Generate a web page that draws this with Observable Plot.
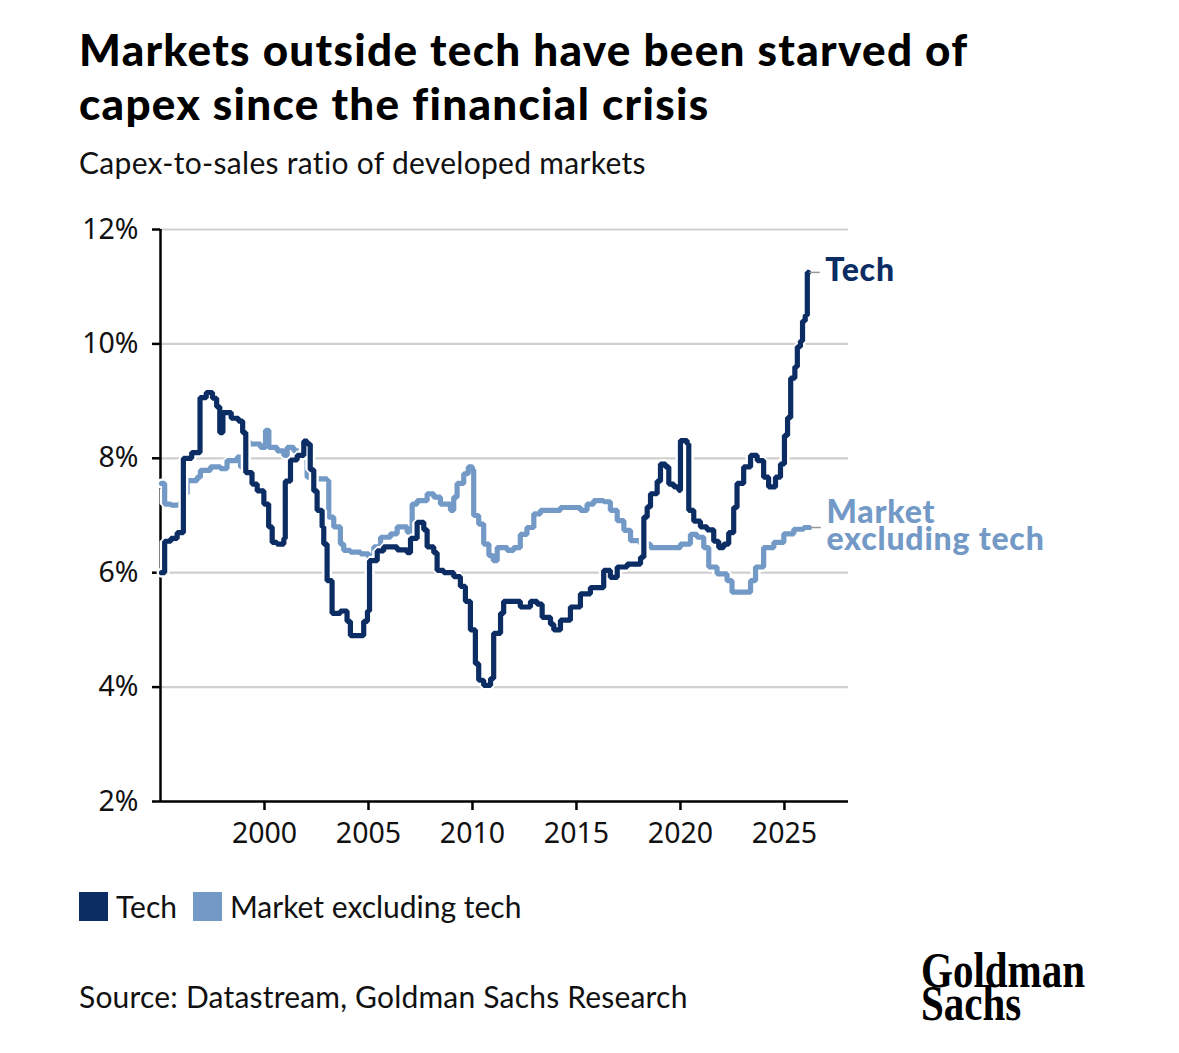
<!DOCTYPE html>
<html>
<head>
<meta charset="utf-8">
<script src="https://cdn.jsdelivr.net/npm/d3@7"></script>
<script src="https://cdn.jsdelivr.net/npm/@observablehq/plot@0.6"></script>
<style>
  html, body { margin: 0; padding: 0; background: #fff; }
  #page { position: relative; width: 1179px; height: 1053px; font-family: Lato, "Noto Sans", sans-serif; color: #111; }
  .abs { position: absolute; white-space: nowrap; }
  #title { left: 79px; top: 22px; font-size: 44px; font-weight: 900; line-height: 54px; color: #000; letter-spacing: 1.3px; }
  #subtitle { left: 79px; top: 144px; font-size: 30px; font-weight: 400; color: #111; letter-spacing: 0.3px; }
  #chart { left: 0; top: 200px; }
  #legend { left: 79px; top: 888px; font-size: 30px; display: flex; align-items: center; }
  .sw { width: 29px; height: 29px; display: inline-block; margin-right: 8px; }
  #source { left: 79px; top: 978px; font-size: 30px; color: #111; letter-spacing: 0.2px; }
  #logo { left: 921px; top: 954px; font-family: "Liberation Serif", "DejaVu Serif", serif; font-weight: 700; font-size: 50px; line-height: 33px; transform-origin: left top; transform: scaleX(0.82); color: #000; }
  #chart text.dirlabel { letter-spacing: 0.8px; }
</style>
</head>
<body>
<div id="page">
  <div id="title" class="abs">Markets outside tech have been starved of<br>capex since the financial crisis</div>
  <div id="subtitle" class="abs">Capex-to-sales ratio of developed markets</div>
  <div id="chart" class="abs"></div>
  <div id="legend" class="abs">
    <span class="sw" style="background:#0b2d63"></span><span style="margin-right:16px">Tech</span>
    <span class="sw" style="background:#7399c6"></span><span>Market excluding tech</span>
  </div>
  <div id="source" class="abs">Source: Datastream, Goldman Sachs Research</div>
  <div id="logo" class="abs">Goldman<br>Sachs</div>
</div>
<script>
const seriesNames = ["Tech", "Market excluding tech"];
const seriesColors = ["#0b2d63", "#7399c6"];
const yTicks = [2, 4, 6, 8, 10, 12];
const xTicks = [2000, 2005, 2010, 2015, 2020, 2025];

const techDates = [1995.05,1995.2,1995.5,1995.8,1996.1,1996.5,1996.9,1997.2,1997.5,1997.7,1997.85,1998.0,1998.4,1998.75,1998.95,1999.1,1999.4,1999.65,1999.97,2000.2,2000.37,2000.6,2000.93,2001.0,2001.25,2001.57,2001.89,2002.05,2002.2,2002.37,2002.53,2002.77,2002.85,2003.01,2003.25,2003.65,2003.97,2004.13,2004.53,2004.77,2004.95,2005.05,2005.42,2005.73,2006.38,2006.86,2007.02,2007.34,2007.66,2007.82,2008.14,2008.3,2008.62,2009.1,2009.42,2009.66,2009.9,2010.14,2010.3,2010.54,2010.87,2011.02,2011.35,2011.5,2011.98,2012.3,2012.79,2013.11,2013.35,2013.75,2013.91,2014.23,2014.71,2015.19,2015.67,2016.0,2016.31,2016.63,2016.96,2017.44,2018.08,2018.24,2018.4,2018.56,2018.88,2019.04,2019.28,2019.44,2019.68,2019.92,2020.0,2020.32,2020.4,2020.64,2020.96,2021.28,2021.6,2021.84,2022.08,2022.32,2022.56,2022.72,2023.04,2023.37,2023.69,2024.0,2024.24,2024.57,2024.81,2025.0,2025.15,2025.3,2025.5,2025.62,2025.77,2025.87,2026.0,2026.1,2026.15];
const techValues = [6.0,6.55,6.6,6.7,8.0,8.1,9.06,9.15,9.05,8.9,8.45,8.8,8.7,8.65,8.45,7.75,7.55,7.43,7.2,6.8,6.53,6.5,6.6,7.6,7.97,8.05,8.3,8.25,7.8,7.43,7.09,6.8,6.5,5.86,5.29,5.33,5.15,4.9,4.9,5.15,5.33,6.21,6.38,6.45,6.4,6.35,6.6,6.88,6.75,6.45,6.35,6.04,6.0,5.93,5.76,5.5,5.0,4.41,4.12,4.03,4.15,4.94,5.29,5.5,5.5,5.4,5.5,5.45,5.22,5.1,5.0,5.17,5.4,5.63,5.74,5.74,6.04,5.92,6.1,6.15,6.27,6.97,7.15,7.38,7.6,7.9,7.85,7.55,7.5,7.44,8.31,8.25,7.09,6.9,6.8,6.75,6.55,6.44,6.5,6.7,7.14,7.56,7.85,8.05,7.96,7.67,7.5,7.67,7.9,8.4,8.71,9.4,9.6,9.95,10.05,10.4,10.5,11.25,11.25];

const exTechDates = [1995.05,1995.2,1995.5,1995.96,1996.12,1996.28,1996.76,1996.92,1997.4,1997.88,1998.2,1998.69,1998.85,1999.0,1999.33,1999.81,2000.05,2000.21,2000.61,2000.93,2001.09,2001.41,2001.81,2001.97,2002.05,2002.37,2003.01,2003.09,2003.33,2003.65,2003.81,2004.13,2004.62,2005.01,2005.26,2005.58,2006.06,2006.38,2006.86,2007.1,2007.34,2007.82,2008.14,2008.46,2008.94,2009.1,2009.26,2009.58,2009.8,2010.0,2010.06,2010.3,2010.54,2010.79,2011.0,2011.19,2011.67,2011.98,2012.3,2012.62,2012.95,2013.27,2013.75,2014.23,2014.87,2015.19,2015.51,2015.83,2016.31,2016.63,2016.96,2017.28,2017.6,2018.08,2018.56,2019.36,2020.0,2020.48,2020.8,2021.12,2021.36,2021.76,2022.24,2022.48,2023.04,2023.37,2023.61,2024.0,2024.49,2024.97,2025.45,2025.93,2026.2];
const exTechValues = [7.56,7.2,7.18,7.24,7.38,7.61,7.67,7.79,7.85,7.82,7.96,8.02,7.85,8.28,8.25,8.19,8.49,8.19,8.13,8.05,8.19,8.13,8.13,8.08,7.67,7.64,7.61,6.97,6.8,6.5,6.39,6.36,6.33,6.27,6.45,6.62,6.68,6.8,6.71,7.2,7.26,7.38,7.32,7.2,7.09,7.32,7.56,7.73,7.85,7.8,7.0,6.85,6.5,6.3,6.21,6.44,6.39,6.44,6.67,6.79,7.03,7.09,7.09,7.14,7.14,7.09,7.2,7.26,7.24,7.09,6.91,6.74,6.56,6.5,6.44,6.44,6.5,6.67,6.62,6.44,6.1,5.98,5.86,5.66,5.66,5.86,6.1,6.44,6.53,6.68,6.76,6.79,6.79];

const tech = techDates.map((d, i) => ({date: d, value: techValues[i]}));
const exTech = exTechDates.map((d, i) => ({date: d, value: exTechValues[i]}));
const lastTech = tech[tech.length - 1];
const lastEx = exTech[exTech.length - 1];
const labels = [
  {date: lastTech.date, value: lastTech.value, text: seriesNames[0], color: seriesColors[0]},
  {date: lastEx.date, value: lastEx.value, text: "Market\nexcluding tech", color: seriesColors[1]}
];

const chart = Plot.plot({
  width: 1179,
  height: 660,
  marginLeft: 160,
  marginRight: 331,
  marginTop: 29,
  marginBottom: 59,
  style: {fontFamily: "Lato, 'Noto Sans', sans-serif", background: "white", overflow: "visible"},
  x: {domain: [1995, 2028.08]},
  y: {domain: [2, 12]},
  marks: [
    Plot.gridY(yTicks.filter(t => t > 2), {stroke: "#cfcfcf", strokeOpacity: 1, strokeWidth: 2.2}),
    Plot.axisY(yTicks, {tickSize: 8, tickPadding: 14, strokeWidth: 2.5, stroke: "#000", fontSize: 28.5, fontFamily: "'Noto Sans', sans-serif", fill: "#111", tickFormat: d => d + "%", label: null}),
    Plot.axisX(xTicks, {tickSize: 9, tickPadding: 12, strokeWidth: 2.5, stroke: "#000", fontSize: 28.5, fontFamily: "'Noto Sans', sans-serif", fill: "#111", tickFormat: d => String(d), label: null}),
    Plot.ruleX([1995], {y1: 2, y2: 12, stroke: "#000", strokeWidth: 2.5}),
    Plot.ruleY([2], {stroke: "#000", strokeWidth: 2.5}),
    Plot.line(exTech, {x: "date", y: "value", curve: "step-after", stroke: "white", strokeWidth: 10, strokeLinejoin: "miter"}),
    Plot.line(exTech, {x: "date", y: "value", curve: "step-after", stroke: seriesColors[1], strokeWidth: 5.2, strokeLinejoin: "miter"}),
    Plot.line(tech, {x: "date", y: "value", curve: "step-after", stroke: "white", strokeWidth: 10, strokeLinejoin: "miter"}),
    Plot.line(tech, {x: "date", y: "value", curve: "step-after", stroke: seriesColors[0], strokeWidth: 5.2, strokeLinejoin: "miter"}),
    Plot.link(labels, {x1: d => d.date + 0.05, x2: d => d.date + 0.55, y1: "value", y2: "value", stroke: "#999", strokeWidth: 1.5}),
    Plot.text(labels, {x: "date", y: "value", text: "text", dx: 17, textAnchor: "start", fill: "color", fontSize: 32, fontWeight: 900, lineHeight: 0.86, className: "dirlabel"})
  ]
});
document.getElementById("chart").appendChild(chart);
chart.querySelectorAll("g.dirlabel text, .dirlabel text").forEach(t => t.style.letterSpacing = "0.8px");
</script>
</body>
</html>
